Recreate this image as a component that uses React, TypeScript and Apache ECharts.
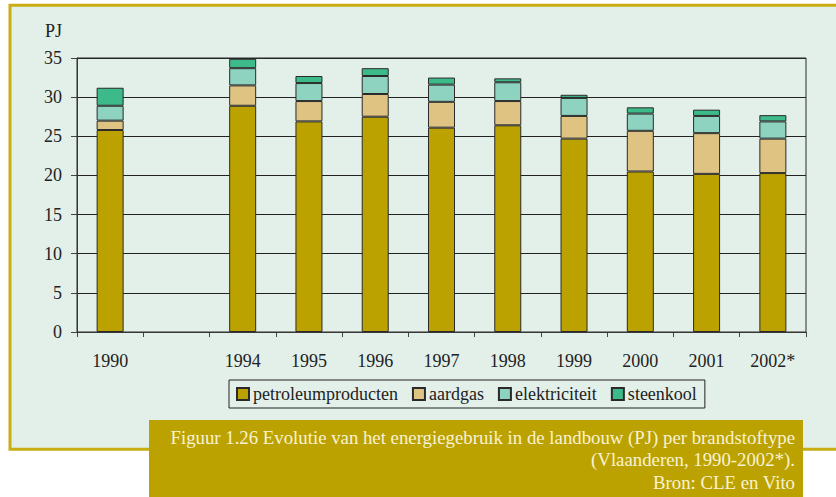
import React, { useEffect, useRef } from "react";
import * as echarts from "echarts";

const categories = ["1990", "", "1994", "1995", "1996", "1997", "1998", "1999", "2000", "2001", "2002*"];
const petroleumproducten = [25.8, null, 28.9, 26.9, 27.5, 26.1, 26.4, 24.7, 20.5, 20.2, 20.3];
const aardgas = [1.2, null, 2.6, 2.6, 2.9, 3.3, 3.1, 2.9, 5.2, 5.2, 4.4];
const elektriciteit = [1.9, null, 2.2, 2.3, 2.3, 2.2, 2.4, 2.3, 2.2, 2.2, 2.2];
const steenkool = [2.3, null, 1.2, 0.9, 1.0, 0.9, 0.5, 0.4, 0.8, 0.8, 0.8];
const seriesNames = ["petroleumproducten", "aardgas", "elektriciteit", "steenkool"];
const seriesColors = ["#bca200", "#dfc383", "#8dd3bf", "#3dba8a"];
const captionLines = [
  "Figuur 1.26 Evolutie van het energiegebruik in de landbouw (PJ) per brandstoftype",
  "(Vlaanderen, 1990-2002*).",
  "Bron: CLE en Vito",
];

const FONT = "Liberation Serif";

export default function App() {
  const ref = useRef<HTMLDivElement>(null);
  useEffect(() => {
    if (!ref.current) return;
    const chart = echarts.init(ref.current, undefined, { renderer: "svg" });
    const data = [petroleumproducten, aardgas, elektriciteit, steenkool];
    chart.setOption({
      animation: false,
      textStyle: { fontFamily: FONT },
      grid: {
        left: 77,
        top: 58,
        width: 729,
        height: 274,
        show: true,
        borderColor: "#2a2a2a",
        borderWidth: 1,
        backgroundColor: "transparent",
        z: 1,
      },
      legend: {
        left: 229,
        top: 380,
        padding: [5, 8, 5, 7],
        borderColor: "#222",
        borderWidth: 1,
        itemWidth: 12,
        itemHeight: 12,
        itemGap: 14,
        icon: "rect",
        data: seriesNames,
        textStyle: { fontFamily: FONT, fontSize: 18, color: "#222", padding: [0, 0, 0, -1] },
      },
      xAxis: {
        type: "category",
        data: categories,
        axisLine: { show: true, lineStyle: { color: "#444", width: 1 } },
        axisTick: { show: true, length: 5, lineStyle: { color: "#444" } },
        axisLabel: { fontFamily: FONT, fontSize: 18, color: "#222", margin: 20 },
      },
      yAxis: {
        type: "value",
        min: 0,
        max: 35,
        interval: 5,
        name: "PJ",
        nameLocation: "end",
        nameGap: 18,
        nameTextStyle: { fontFamily: FONT, fontSize: 18, color: "#222", align: "right", padding: [0, 15, 0, 0] },
        axisLine: { show: true, lineStyle: { color: "#444", width: 1 } },
        axisTick: { show: true, length: 6, lineStyle: { color: "#444" } },
        axisLabel: { fontFamily: FONT, fontSize: 18, color: "#222", margin: 15 },
        splitLine: { show: true, lineStyle: { color: "#222", width: 1 } },
      },
      series: seriesNames.map((name, i) => ({
        name,
        type: "bar",
        stack: "total",
        barWidth: 27,
        data: data[i],
        itemStyle: { color: seriesColors[i], borderColor: "#2a2a2a", borderWidth: 1 },
        z: 3,
      })),
      graphic: [
        {
          type: "rect",
          z: -10,
          silent: true,
          shape: { x: 10, y: 5.3, width: 840, height: 444 },
          style: { fill: "#e2f0e9", stroke: "#c8ae12", lineWidth: 3 },
        },
        {
          type: "rect",
          z: 10,
          silent: true,
          shape: { x: 149, y: 420, width: 654, height: 80 },
          style: { fill: "#bca200" },
        },
        ...captionLines.map((t, i) => ({
          type: "text",
          z: 11,
          silent: true,
          x: 795,
          y: 437 + i * 22.5,
          style: {
            text: t,
            fill: "#f8f2d4",
            fontFamily: FONT,
            fontSize: 18.8,
            align: "right",
            verticalAlign: "middle",
          },
        })),
      ],
    });
    return () => chart.dispose();
  }, []);
  return (
    <div
      ref={ref}
      style={{ position: "absolute", left: 0, top: 0, width: 836, height: 497, background: "#fff" }}
    />
  );
}
